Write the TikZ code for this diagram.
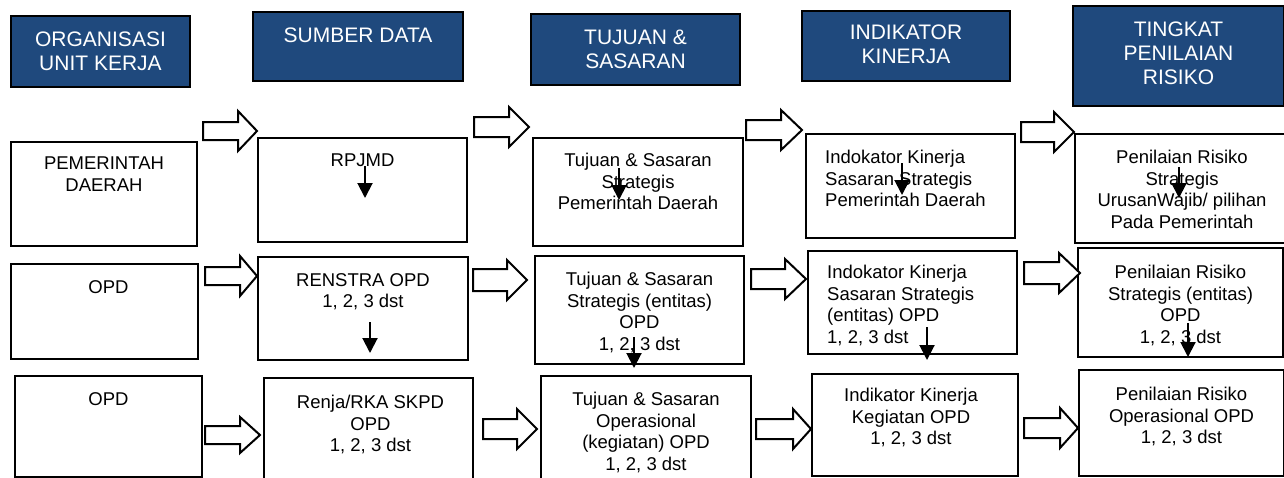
\documentclass[tikz,border=0pt]{standalone}
\usepackage{fontspec}
\setmainfont{Liberation Sans}
\usetikzlibrary{positioning,arrows.meta}
\definecolor{hdblue}{RGB}{31,73,125}
% hollow block arrow: x start, x tip, x head, y, shaft half, head half
\newcommand{\blockarr}[6]{\draw[barr](#1,#4-#5)--(#3,#4-#5)--(#3,#4-#6)--(#2,#4)--(#3,#4+#6)--(#3,#4+#5)--(#1,#4+#5)--cycle;}

\begin{document}
\begin{tikzpicture}[x=1pt,y=-1pt,
    box/.style={draw,line width=2pt,inner sep=0pt,anchor=north west},
    hbox/.style={box,fill=hdblue},
    txt/.style={inner sep=0pt,align=center,font=\fontsize{18.5}{21.5}\selectfont},
    htxt/.style={inner sep=0pt,align=center,text=white,font=\fontsize{21}{24}\selectfont},
    barr/.style={line width=2pt,fill=white},
    darr/.style={-{Triangle[width=15pt,length=15pt]},line width=2pt}]
    \useasboundingbox(0,0)rectangle(1284,477);

    % headers
    \node[hbox,minimum width=179pt,minimum height=71pt](h1)at(10,15){};
    \node[hbox,minimum width=210pt,minimum height=69pt](h2)at(252,11){};
    \node[hbox,minimum width=209pt,minimum height=71pt](h3)at(530,13){};
    \node[hbox,minimum width=208pt,minimum height=70pt](h4)at(801,10){};
    \node[hbox,minimum width=211pt,minimum height=100pt](h5)at(1072,5){};
    \node[htxt,below=17pt of h1.north](th1){ORGANISASI\\UNIT KERJA};
    \node[htxt,below=17pt of h2.north](th2){SUMBER DATA};
    \node[htxt,below=17pt of h3.north](th3){TUJUAN \&\\SASARAN};
    \node[htxt,below=15pt of h4.north](th4){INDIKATOR\\KINERJA};
    \node[htxt,below=17pt of h5.north](th5){TINGKAT\\PENILAIAN\\RISIKO};

    % row 1
    \node[box,minimum width=186pt,minimum height=104pt](a1)at(10,141){};
    \node[box,minimum width=209pt,minimum height=104pt](b1)at(257,137){};
    \node[box,minimum width=210pt,minimum height=108pt](c1)at(532,137){};
    \node[box,minimum width=209pt,minimum height=104pt](d1)at(805,133){};
    \node[box,minimum width=216pt,minimum height=109pt](e1)at(1074,133){};
    \node[txt,below=16pt of a1.north](ta1){PEMERINTAH\\DAERAH};
    \node[txt,below=17pt of b1.north](tb1){RPJMD};
    \node[txt,below=16pt of c1.north](tc1){Tujuan \& Sasaran\\Strategis\\Pemerintah Daerah};
    \node[txt,align=left,below right=17pt and 20pt of d1.north west](td1){Indokator Kinerja\\Sasaran Strategis\\Pemerintah Daerah};
    \node[txt,below=17pt of e1.north,xshift=-1pt](te1){Penilaian Risiko\\Strategis\\UrusanWajib/ pilihan\\Pada Pemerintah};

    % row 2
    \node[box,minimum width=187pt,minimum height=95pt](a2)at(10,263){};
    \node[box,minimum width=210pt,minimum height=103pt](b2)at(257,256){};
    \node[box,minimum width=209pt,minimum height=108pt](c2)at(534,255){};
    \node[box,minimum width=209pt,minimum height=103pt](d2)at(807,250){};
    \node[box,minimum width=205pt,minimum height=109pt](e2)at(1077,247){};
    \node[txt,below=17pt of a2.north,xshift=4pt](ta2){OPD};
    \node[txt,below=17pt of b2.north](tb2){RENSTRA OPD\\1, 2, 3 dst};
    \node[txt,below=17pt of c2.north](tc2){Tujuan \& Sasaran\\Strategis (entitas)\\OPD\\1, 2, 3 dst};
    \node[txt,align=left,below right=15pt and 20pt of d2.north west](td2){Indokator Kinerja\\Sasaran Strategis\\(entitas) OPD\\1, 2, 3 dst};
    \node[txt,below=18pt of e2.north](te2){Penilaian Risiko\\Strategis (entitas)\\OPD\\1, 2, 3 dst};

    % row 3
    \node[box,minimum width=187pt,minimum height=101pt](a3)at(14,375){};
    \node[box,minimum width=209pt,minimum height=105pt](b3)at(263,377){};
    \node[box,minimum width=210pt,minimum height=105pt](c3)at(540,375){};
    \node[box,minimum width=206pt,minimum height=102pt](d3)at(811,373){};
    \node[box,minimum width=205pt,minimum height=106pt](e3)at(1078,369){};
    \node[txt,below=17pt of a3.north](ta3){OPD};
    \node[txt,below=18pt of b3.north,xshift=2pt](tb3){Renja/RKA SKPD\\OPD\\1, 2, 3 dst};
    \node[txt,below=17pt of c3.north](tc3){Tujuan \& Sasaran\\Operasional\\(kegiatan) OPD\\1, 2, 3 dst};
    \node[txt,below=15pt of d3.north,xshift=-4pt](td3){Indikator Kinerja\\Kegiatan OPD\\1, 2, 3 dst};
    \node[txt,below=18pt of e3.north](te3){Penilaian Risiko\\Operasional OPD\\1, 2, 3 dst};

    % block arrows
    \blockarr{203}{257}{238}{131}{9}{20}
    \blockarr{474}{529}{509}{127}{10}{20}
    \blockarr{746}{802}{781}{130}{10}{20}
    \blockarr{1021}{1074}{1054}{132}{10}{20}
    \blockarr{205}{257}{240}{276}{9}{20}
    \blockarr{473}{527}{507}{280}{11}{20}
    \blockarr{751}{806}{785}{279}{10}{20}
    \blockarr{1024}{1080}{1059}{273}{11}{20}
    \blockarr{205}{260}{240}{435}{9}{18}
    \blockarr{483}{537}{517}{429}{10}{20}
    \blockarr{756}{811}{793}{429}{10}{20}
    \blockarr{1024}{1078}{1060}{428}{10}{20}

    % down arrows
    \draw[darr](365,166)--(365,198);
    \draw[darr](619,168)--(619,200);
    \draw[darr](902,163)--(902,195);
    \draw[darr](1179,167)--(1179,198);
    \draw[darr](370,322)--(370,353);
    \draw[darr](634,337)--(634,368);
    \draw[darr](927,327)--(927,360);
    \draw[darr](1188,323)--(1188,357);
\end{tikzpicture}
\end{document}
